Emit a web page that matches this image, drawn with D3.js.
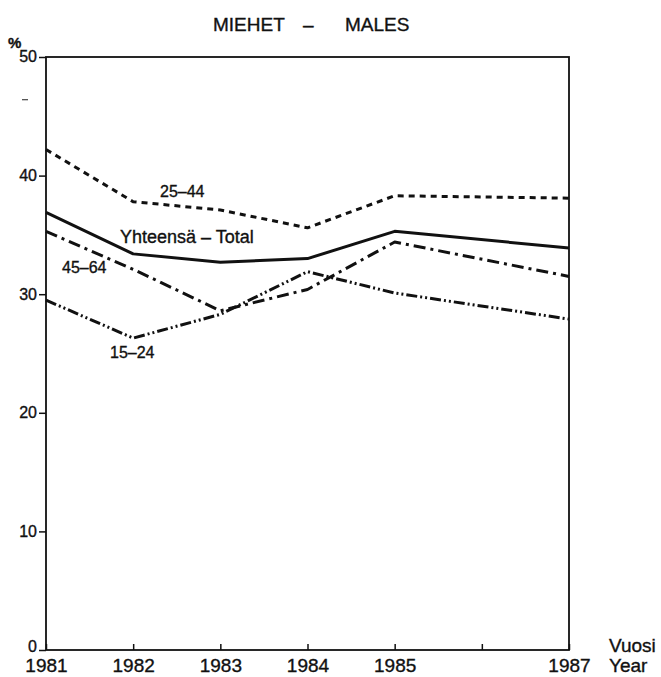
<!DOCTYPE html>
<html><head><meta charset="utf-8">
<script src="https://cdn.jsdelivr.net/npm/d3@7"></script>
<style>body{margin:0;background:#fff}svg{display:block}text{font-family:"Liberation Sans",Arial,sans-serif;fill:#111;stroke:#111;stroke-width:0.35px}</style>
</head><body><svg id="c" width="661" height="677"></svg>
<script>
const years = [1981, 1982, 1983, 1984, 1985, 1987];
const tickYears = [1981, 1982, 1983, 1984, 1985, 1986, 1987];
const tickYearLabels = ["1981", "1982", "1983", "1984", "1985", "", "1987"];
const yTicks = [0, 10, 20, 30, 40, 50];
const total = [36.9, 33.4, 32.7, 33.0, 35.3, 33.9];
const age25_44 = [42.2, 37.8, 37.1, 35.6, 38.3, 38.1];
const age45_64 = [35.3, 32.1, 28.6, 30.4, 34.4, 31.5];
const age15_24 = [29.5, 26.3, 28.3, 31.9, 30.1, 27.9];
const seriesNames = ["Yhteensä – Total", "25–44", "45–64", "15–24"];

const svg = d3.select("#c");
const x = d3.scaleLinear().domain([1981, 1987]).range([46, 569]);
const y = d3.scaleLinear().domain([0, 50]).range([650, 57]);

// frame
svg.append("rect").attr("x", x(1981)).attr("y", y(50))
  .attr("width", x(1987) - x(1981)).attr("height", y(0) - y(50))
  .attr("fill", "none").attr("stroke", "#111").attr("stroke-width", 1.8);

// y axis
const ya = svg.append("g").attr("transform", `translate(${x(1981)},0)`)
  .call(d3.axisLeft(y).tickValues(yTicks).tickSize(7).tickPadding(2).tickFormat(d3.format("d")));
ya.select(".domain").remove();
ya.selectAll("line").attr("stroke", "#111").attr("stroke-width", 1.5);
ya.selectAll("text").attr("font-size", 16).attr("fill", "#111")
  .attr("dy", d => d === 0 ? "0.1em" : "0.3em")
  .style("font-family", '"Liberation Sans",Arial,sans-serif');

// x axis (ticks inward)
const xa = svg.append("g").attr("transform", `translate(0,${y(0)})`)
  .call(d3.axisBottom(x).tickValues(tickYears).tickSize(-6).tickPadding(10)
    .tickFormat((d, i) => tickYearLabels[i]));
xa.select(".domain").remove();
xa.selectAll("line").attr("stroke", "#111").attr("stroke-width", 1.5);
xa.selectAll("text").attr("font-size", 19).attr("fill", "#111").attr("dy", "0")
  .attr("y", 22).style("font-family", '"Liberation Sans",Arial,sans-serif');

// stray small mark on the y axis area
svg.append("line").attr("x1", 22).attr("x2", 28).attr("y1", y(46.4)).attr("y2", y(46.4))
  .attr("stroke", "#444").attr("stroke-width", 1.2);

// lines
const line = d3.line().x((d, i) => x(years[i])).y(d => y(d));
const series = [
  {v: total, dash: null},
  {v: age25_44, dash: "6,5"},
  {v: age45_64, dash: "12,5,3,5"},
  {v: age15_24, dash: "11,3,2,3,2,3"}
];
series.forEach(s => {
  svg.append("path").datum(s.v).attr("d", line)
    .attr("fill", "none").attr("stroke", "#111").attr("stroke-width", 3)
    .attr("stroke-linejoin", "round")
    .attr("stroke-dasharray", s.dash);
});

// series labels
const lab = [
  {t: seriesNames[0], x: 120, y: 243, s: 18},
  {t: seriesNames[1], x: 160, y: 197, s: 16},
  {t: seriesNames[2], x: 62, y: 273, s: 16},
  {t: seriesNames[3], x: 110, y: 358, s: 16}
];
lab.forEach(l => svg.append("text").attr("x", l.x).attr("y", l.y).attr("font-size", l.s).text(l.t));

// title
svg.append("text").attr("x", 213).attr("y", 31).attr("font-size", 19).text("MIEHET");
svg.append("text").attr("x", 303).attr("y", 31).attr("font-size", 19).text("–");
svg.append("text").attr("x", 345).attr("y", 31).attr("font-size", 19).text("MALES");

// % label
svg.append("text").attr("x", 8).attr("y", 48).attr("font-size", 15).attr("font-weight", "bold").text("%");

// Vuosi / Year
svg.append("text").attr("x", 609).attr("y", 652).attr("font-size", 19).text("Vuosi");
svg.append("text").attr("x", 609).attr("y", 672).attr("font-size", 19).text("Year");
</script></body></html>
